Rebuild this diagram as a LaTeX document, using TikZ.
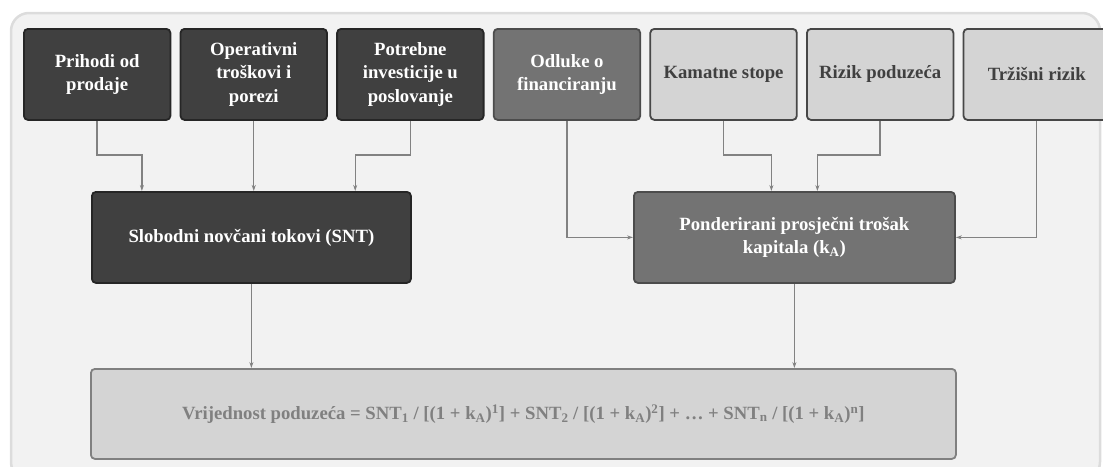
\documentclass[tikz,border=0pt]{standalone}
\usepackage{fontspec}
\setmainfont{Liberation Serif}
\usetikzlibrary{positioning,arrows.meta}

\definecolor{panelgray}{HTML}{F2F2F2}
\definecolor{panelline}{HTML}{DCDCDC}
\definecolor{darkfill}{HTML}{404040}
\definecolor{midfill}{HTML}{737373}
\definecolor{lightfill}{HTML}{D4D4D4}
\definecolor{linkgray}{HTML}{828282}

\begin{document}
\begin{tikzpicture}[x=1pt, y=-1pt,
    >={Stealth[length=6pt,width=4pt]},
    box/.style={rectangle, rounded corners=4pt, line width=1.8pt, inner sep=0pt,
        minimum width=146.5pt, minimum height=91pt, align=center,
        font=\fontsize{18.7}{23.5}\selectfont\bfseries},
    darkbox/.style={box, draw=black!85, fill=darkfill, text=white},
    midbox/.style={box, draw=black!70, fill=midfill, text=white},
    lightbox/.style={box, draw=black!72, fill=lightfill, text=darkfill},
    sumbox/.style={box, draw=black!50, fill=lightfill, text=black!50},
    link/.style={->, draw=linkgray, line width=1.4pt},
]
\useasboundingbox (0,0) rectangle (1103,466);
\draw[fill=panelgray, draw=panelline, line width=2.5pt, rounded corners=18pt]
    (11,13) rectangle (1100,480);

% top row
\node[darkbox, anchor=north west] (prihodi) at (23,28) {Prihodi od\\prodaje};
\node[darkbox]  (operativni) [right=8.3pt of prihodi]    {Operativni\\troškovi i\\porezi};
\node[darkbox]  (potrebne)   [right=8.3pt of operativni] {Potrebne\\investicije u\\poslovanje};
\node[midbox]   (odluke)     [right=8.3pt of potrebne]   {Odluke o\\financiranju};
\node[lightbox] (kamatne)    [right=8.3pt of odluke]     {Kamatne stope};
\node[lightbox] (rizik)      [right=8.3pt of kamatne]    {Rizik poduzeća};
\node[lightbox] (trzisni)    [right=8.3pt of rizik]      {Tržišni rizik};

% middle row
\node[darkbox, anchor=north west, minimum width=319pt] (snt) at (91,191)
    {Slobodni novčani tokovi (SNT)};
\node[midbox, anchor=north west, minimum width=321pt] (ponder) at (633,191)
    {Ponderirani prosječni trošak\\kapitala (k\textsubscript{A})};

% bottom
\node[sumbox, anchor=north west, minimum width=865pt, minimum height=90pt] (vrijednost) at (90,368)
    {Vrijednost poduzeća = SNT\textsubscript{1} / [(1 + k\textsubscript{A})\textsuperscript{1}] + SNT\textsubscript{2} / [(1 + k\textsubscript{A})\textsuperscript{2}] + … + SNT\textsubscript{n} / [(1 + k\textsubscript{A})\textsuperscript{n}]};

\draw[link] (prihodi.south) -- ++(0,34) -| ([xshift=-109.5pt]snt.north);
\draw[link] (operativni.south) -- (operativni.south |- snt.north);
\draw[link] (potrebne.south) -- ++(0,34) -| ([xshift=103.8pt]snt.north);
\draw[link] (odluke.south) |- (ponder.west);
\draw[link] (kamatne.south) -- ++(0,34) -| ([xshift=-23pt]ponder.north);
\draw[link] (rizik.south) -- ++(0,34) -| ([xshift=23pt]ponder.north);
\draw[link] (trzisni.south) |- (ponder.east);
\draw[link] (snt.south) -- (snt.south |- vrijednost.north);
\draw[link] (ponder.south) -- (ponder.south |- vrijednost.north);
\end{tikzpicture}
\end{document}
